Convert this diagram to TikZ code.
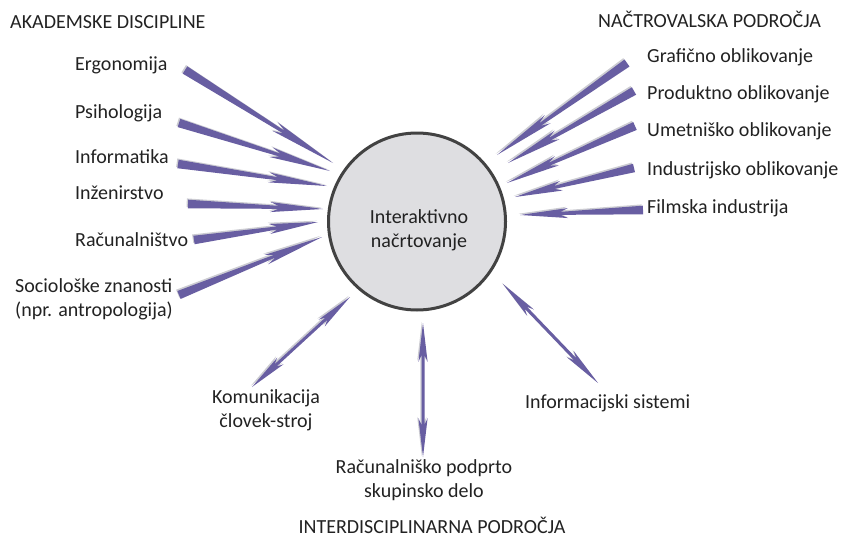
\documentclass[tikz,border=0pt]{standalone}
\usepackage{fontspec}
\setmainfont{Carlito}
\usetikzlibrary{calc}
\definecolor{arrpurple}{RGB}{104,94,162}
\definecolor{arrshade}{RGB}{204,204,210}
\definecolor{circfill}{RGB}{222,222,225}
\definecolor{circline}{RGB}{66,66,66}
\definecolor{txt}{RGB}{34,34,34}
% single tapered arrow: #1 tail, #2 tip, #3 shift, #4 fill style
\newcommand\onearrow[4]{%
\fill[#4] ($(#1)!4.3pt!90:(#2)+#3$) -- ($(#1)!0.67!(#2)!1.5pt!90:(#2)+#3$) -- ($(#1)!0.61!(#2)!5pt!90:(#2)+#3$) -- ($(#2)+#3$) -- ($(#1)!0.61!(#2)!5pt!-90:(#2)+#3$) -- ($(#1)!0.67!(#2)!1.5pt!-90:(#2)+#3$) -- ($(#1)!4.3pt!-90:(#2)+#3$) -- cycle;}
% double arrow: #1 tip A, #2 tip B, #3 shift, #4 fill style
\newcommand\twoarrow[4]{%
\fill[#4] ($(#1)+#3$) -- ($(#1)!0.29!(#2)!4.6pt!90:(#2)+#3$) -- ($(#1)!0.24!(#2)!1.5pt!90:(#2)+#3$) -- ($(#1)!0.76!(#2)!1.5pt!90:(#2)+#3$) -- ($(#1)!0.71!(#2)!4.6pt!90:(#2)+#3$) -- ($(#2)+#3$) -- ($(#1)!0.71!(#2)!4.6pt!-90:(#2)+#3$) -- ($(#1)!0.76!(#2)!1.5pt!-90:(#2)+#3$) -- ($(#1)!0.24!(#2)!1.5pt!-90:(#2)+#3$) -- ($(#1)!0.29!(#2)!4.6pt!-90:(#2)+#3$) -- cycle;}
\newcommand\sarr[2]{\onearrow{#1}{#2}{(-1.3,-1.3)}{arrshade}\onearrow{#1}{#2}{(0,0)}{arrpurple}}
\newcommand\darr[2]{\twoarrow{#1}{#2}{(-1.2,-1.2)}{arrshade}\twoarrow{#1}{#2}{(0,0)}{arrpurple}}
\begin{document}
\begin{tikzpicture}[x=1pt,y=-1pt,
  lbl/.style={font=\fontsize{20}{24}\selectfont, text=txt, inner sep=0pt},
  lblw/.style={lbl, anchor=base west},
  lblc/.style={lbl, anchor=base},
  hub/.style={circle, draw=circline, line width=3pt, fill=circfill, minimum size=177pt, inner sep=0pt}]
\useasboundingbox (0,0) rectangle (842,538);
% hub
\node[hub] (c) at (417,221.5) {};
\node[lbl, align=center] (ctext) at (419,230) {Interaktivno\\načrtovanje};
% headings
\node[lblw] (h1) at (10,28) {AKADEMSKE DISCIPLINE};
\node[lblw] (h2) at (598,27) {NAČTROVALSKA PODROČJA};
\node[lblc] (h3) at (432,533) {INTERDISCIPLINARNA PODROČJA};
% left
\node[lblw] (l1) at (75,70) {Ergonomija};
\node[lblw] (l2) at (75,118) {Psihologija};
\node[lblw] (l3) at (75,163) {Informatika};
\node[lblw] (l4) at (75,199) {Inženirstvo};
\node[lblw] (l5) at (75,246) {Računalništvo};
\node[lbl, anchor=north west, align=left] (l6) at (15,278) {Sociološke znanosti\\(npr. antropologija)};
% right
\node[lblw] (r1) at (647,62) {Grafično oblikovanje};
\node[lblw] (r2) at (647,99) {Produktno oblikovanje};
\node[lblw] (r3) at (647,136) {Umetniško oblikovanje};
\node[lblw] (r4) at (647,175) {Industrijsko oblikovanje};
\node[lblw] (r5) at (647,213) {Filmska industrija};
% bottom
\node[lbl, anchor=north, align=center] (b1) at (266,389) {Komunikacija\\človek-stroj};
\node[lbl, anchor=north, align=center] (b2) at (424,459) {Računalniško podprto\\skupinsko delo};
\node[lblw] (b3) at (525,408) {Informacijski sistemi};
% arrow end points
\coordinate (la1) at (185,70);  \coordinate (lb1) at (333,163);
\coordinate (la2) at (179,123); \coordinate (lb2) at (330,171);
\coordinate (la3) at (178,164); \coordinate (lb3) at (327,186);
\coordinate (la4) at (188,204); \coordinate (lb4) at (323,209);
\coordinate (la5) at (194,240); \coordinate (lb5) at (318,222);
\coordinate (la6) at (179,295); \coordinate (lb6) at (322,237);
\coordinate (ra1) at (627,63);  \coordinate (rb1) at (497,155);
\coordinate (ra2) at (634,91);  \coordinate (rb2) at (508,163);
\coordinate (ra3) at (635,126); \coordinate (rb3) at (507,183);
\coordinate (ra4) at (634,168); \coordinate (rb4) at (515,197);
\coordinate (ra5) at (643,210); \coordinate (rb5) at (520,215);
\coordinate (ba1) at (350,297); \coordinate (bb1) at (252,387);
\coordinate (ba2) at (423,323); \coordinate (bb2) at (423,457);
\coordinate (ba3) at (503,284); \coordinate (bb3) at (598,383);
% arrows
\sarr{la1}{lb1}\sarr{la2}{lb2}\sarr{la3}{lb3}\sarr{la4}{lb4}\sarr{la5}{lb5}\sarr{la6}{lb6}
\sarr{ra1}{rb1}\sarr{ra2}{rb2}\sarr{ra3}{rb3}\sarr{ra4}{rb4}\sarr{ra5}{rb5}
\darr{ba1}{bb1}\darr{ba2}{bb2}\darr{ba3}{bb3}
\end{tikzpicture}
\end{document}
